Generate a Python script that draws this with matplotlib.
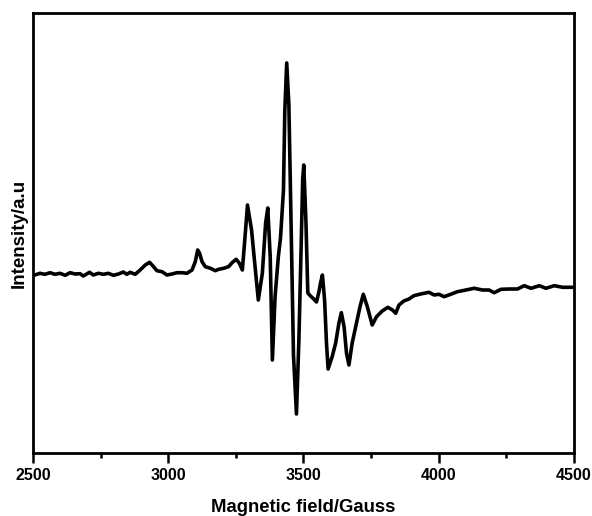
import matplotlib
matplotlib.use('Agg')
import matplotlib.pyplot as plt
from matplotlib.ticker import MultipleLocator

# EPR spectrum (field in Gauss, intensity in a.u.)
field = [2507, 2526, 2544, 2563, 2581, 2600, 2619, 2637, 2656, 2674,
         2686, 2709, 2723, 2742, 2760, 2779, 2797, 2816, 2834, 2847,
         2859, 2878, 2896, 2915, 2931, 2946, 2958, 2977, 2995, 3014,
         3032, 3051, 3069, 3088, 3100, 3109, 3116, 3125, 3137, 3156,
         3174, 3186, 3205, 3223, 3236, 3251, 3263, 3274, 3283, 3293,
         3308, 3321, 3333, 3348, 3360, 3368, 3377, 3385, 3395, 3407,
         3415, 3426, 3431, 3438, 3446, 3454, 3463, 3474, 3483, 3491,
         3497, 3501, 3509, 3516, 3526, 3538, 3548, 3557, 3563, 3570,
         3578, 3585, 3591, 3606, 3619, 3631, 3640, 3650, 3659, 3668,
         3680, 3693, 3709, 3721, 3736, 3754, 3770, 3791, 3812, 3829,
         3841, 3853, 3871, 3890, 3908, 3933, 3964, 3983, 4001, 4020,
         4044, 4069, 4100, 4131, 4162, 4186, 4205, 4230, 4260, 4291,
         4316, 4341, 4372, 4396, 4427, 4458, 4495]
intensity = [-20, -3, -13, 3, -13, -3, -23, 3, -10, -7,
             -30, 7, -20, -3, -13, -3, -23, -10, 10, -13,
             7, -13, 30, 80, 107, 63, 23, 13, -20, -10,
             3, 3, -3, 30, 113, 230, 197, 113, 63, 47,
             23, 37, 47, 63, 103, 137, 97, 30, 330, 680,
             430, 63, -270, 0, 500, 650, 163, -870, -237, 163,
             350, 830, 1630, 2100, 1680, 510, -820, -1410, -670, 230,
             930, 1080, 520, -200, -230, -260, -290, -190, -100, -20,
             -270, -700, -960, -837, -700, -500, -397, -537, -800, -920,
             -700, -537, -337, -213, -337, -520, -437, -380, -343, -370,
             -403, -320, -280, -260, -227, -210, -193, -220, -213, -237,
             -213, -187, -170, -153, -170, -170, -197, -163, -160, -160,
             -127, -153, -127, -153, -127, -143, -143]

x_ticks = [2500, 3000, 3500, 4000, 4500]

plt.rcParams['font.family'] = ['Liberation Sans', 'DejaVu Sans']
plt.rcParams['font.weight'] = 'bold'

fig = plt.figure(figsize=(5.92, 5.16), dpi=100)
fig.set_facecolor('white')
ax = fig.add_axes([0.0557, 0.1221, 0.9139, 0.8527])

ax.plot(field, intensity, color='black', linewidth=2.6,
        solid_joinstyle='round', solid_capstyle='round')

ax.set_xlim(2500, 4500)
ax.set_ylim(-1800, 2600)
ax.set_xticks(x_ticks)
ax.xaxis.set_minor_locator(MultipleLocator(250))
ax.set_yticks([])

for s in ax.spines.values():
    s.set_linewidth(2.0)

ax.tick_params(axis='x', which='major', direction='out', length=7,
               width=1.8, labelsize=11.5, pad=4)
ax.tick_params(axis='x', which='minor', direction='out', length=3.8,
               width=1.8)
for lab in ax.get_xticklabels():
    lab.set_fontweight('bold')

ax.set_xlabel('Magnetic field/Gauss', fontsize=13.3, fontweight='bold',
              labelpad=11)
ax.set_ylabel('Intensity/a.u', fontsize=13.5, fontweight='bold', labelpad=4)

fig.savefig('out.png', dpi=100)
